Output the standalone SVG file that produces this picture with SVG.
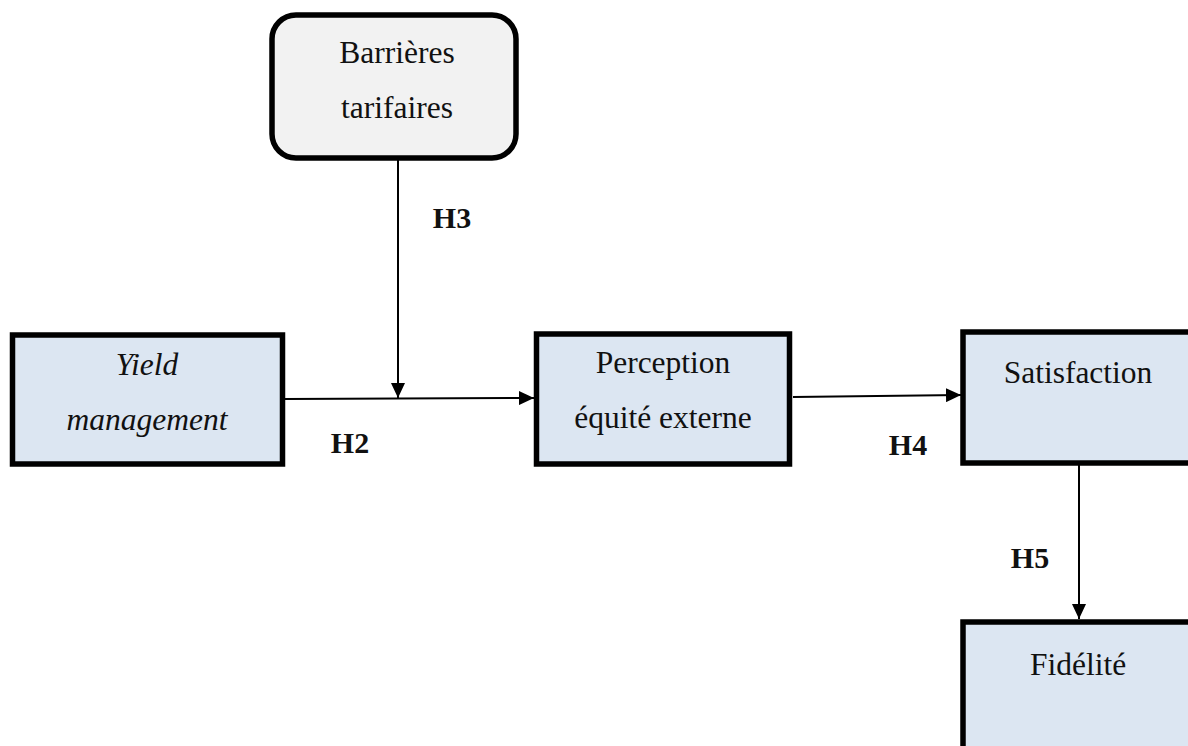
<svg xmlns="http://www.w3.org/2000/svg" width="1188" height="746" viewBox="0 0 1188 746">
<defs>
<style>
.box{fill:#dce6f2;stroke:#000;stroke-width:5.5}
.grey{fill:#f2f2f2;stroke:#000;stroke-width:5.5}
.t{font-family:"Liberation Serif","Times New Roman",serif;font-size:31.5px;fill:#111;text-anchor:middle}
.it{font-style:italic}
.h{font-family:"Liberation Serif","Times New Roman",serif;font-size:30px;font-weight:bold;fill:#111;text-anchor:middle}
.c{stroke:#000;stroke-width:2;fill:none}
</style>
<marker id="arr" markerWidth="15" markerHeight="14" viewBox="0 0 15 14" refX="15" refY="7" orient="auto" markerUnits="userSpaceOnUse">
<path d="M0,0 L15,7 L0,14 Z" fill="#000"/>
</marker>
</defs>
<rect width="1188" height="746" fill="#fff"/>
<g id="connectors">
<line class="c" x1="398" y1="160" x2="398" y2="398" marker-end="url(#arr)"/>
<line class="c" x1="285" y1="399" x2="534" y2="398" marker-end="url(#arr)"/>
<line class="c" x1="793" y1="397" x2="961" y2="395" marker-end="url(#arr)"/>
<line class="c" x1="1079" y1="465" x2="1079" y2="619" marker-end="url(#arr)"/>
<text class="h" x="452" y="228">H3</text>
<text class="h" x="350" y="453">H2</text>
<text class="h" x="908" y="455">H4</text>
<text class="h" x="1030" y="568">H5</text>
</g>
<g id="barrieres">
<rect class="grey" x="272" y="15" width="244" height="143" rx="24" ry="24"/>
<text class="t" x="397" y="63">Barrières</text>
<text class="t" x="397" y="118">tarifaires</text>
</g>
<g id="yield">
<rect class="box" x="12.5" y="335" width="270" height="129"/>
<text class="t it" x="147" y="375">Yield</text>
<text class="t it" x="147" y="430">management</text>
</g>
<g id="perception">
<rect class="box" x="536.5" y="334" width="253" height="130"/>
<text class="t" x="663" y="373">Perception</text>
<text class="t" x="663" y="428">équité externe</text>
</g>
<g id="satisfaction">
<rect class="box" x="963" y="332" width="240" height="131"/>
<text class="t" x="1078" y="383">Satisfaction</text>
</g>
<g id="fidelite">
<rect class="box" x="963" y="622" width="240" height="140"/>
<text class="t" x="1078" y="675">Fidélité</text>
</g>
</svg>
